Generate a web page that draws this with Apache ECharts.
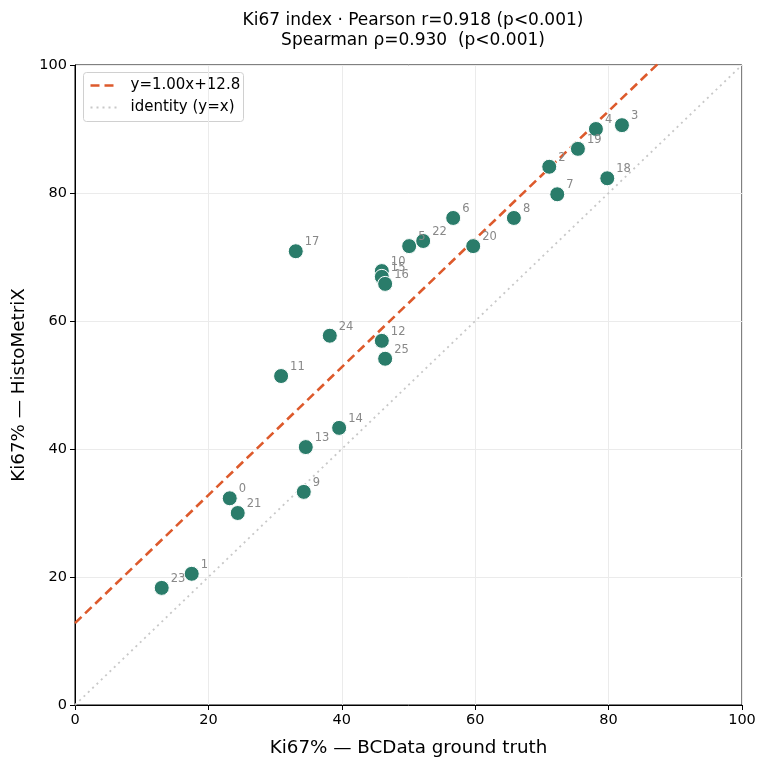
<!DOCTYPE html>
<html><head><meta charset="utf-8">
<script src="https://cdn.jsdelivr.net/npm/echarts@6/dist/echarts.min.js"></script>
<style>html,body{margin:0;padding:0;background:#fff}#c{width:768px;height:767px}</style>
</head><body><div id="c"></div>
<script>
const pointIds = ['0','1','2','3','4','5','6','7','8','9','10','11','12','13','14','15','16','17','18','19','20','21','22','23','24','25'];
const groundTruth = [23.2,17.5,71.1,82.0,78.1,50.1,56.7,72.3,65.8,34.3,46.0,30.9,46.0,34.6,39.6,46.0,46.5,33.1,79.8,75.4,59.7,24.4,52.2,13.0,38.2,46.5];
const histoMetrix = [32.3,20.5,84.1,90.6,90.0,71.7,76.1,79.8,76.1,33.3,67.8,51.4,56.9,40.3,43.3,66.9,65.8,70.9,82.3,86.9,71.7,30.0,72.5,18.3,57.7,54.1];
const fitSlope = 1.00, fitIntercept = 12.8;
const axisTicks = [0,20,40,60,80,100];
const titleLines = ['Ki67 index · Pearson r=0.918 (p<0.001)', 'Spearman ρ=0.930  (p<0.001)'];
const legendLabels = ['y=1.00x+12.8', 'identity (y=x)'];

const font = 'DejaVu Sans';
const pts = groundTruth.map((x,i)=>[x, histoMetrix[i], pointIds[i]]);
const lo = axisTicks[0], hi = axisTicks[axisTicks.length-1];
const fitLine = [[lo, fitIntercept + fitSlope*lo],[hi, fitIntercept + fitSlope*hi]];
const idLine = [[lo,lo],[hi,hi]];

const chart = echarts.init(document.getElementById('c'));
const axisCommon = {
  min: lo, max: hi, interval: 20,
  axisLine: {show:true, onZero:false, lineStyle:{color:'#000', width:1}},
  axisTick: {show:true, inside:false, length:5, lineStyle:{color:'#000'}},
  axisLabel: {color:'#000', fontSize:14.5, fontFamily:font, margin:8},
  splitLine: {show:true, lineStyle:{color:'#ebebeb', width:1}},
  nameLocation:'middle',
  nameTextStyle:{color:'#000', fontSize:18.3, fontFamily:font}
};
chart.setOption({
  animation:false,
  title:{
    text: titleLines.join('\n'), left: 408, top: 6, textAlign:'center',
    textStyle:{fontSize:17, fontWeight:'normal', color:'#000', fontFamily:font, lineHeight:20}
  },
  grid:{left:75, right:26, top:65, bottom:62, show:true, borderColor:'#000', borderWidth:1, backgroundColor:'transparent'},
  xAxis: Object.assign({type:'value', name:'Ki67% — BCData ground truth', nameGap:34}, axisCommon),
  yAxis: Object.assign({type:'value', name:'Ki67% — HistoMetriX', nameGap:41}, axisCommon),
  series:[
    {type:'line', data:idLine, symbol:'none', silent:true, clip:true, z:1,
     lineStyle:{color:'#c8c8c8', width:1.8, type:[2,4]}},
    {type:'line', data:fitLine, symbol:'none', silent:true, clip:true, z:2,
     lineStyle:{color:'#dd5a2c', width:2.6, type:[9,5]}},
    {type:'scatter', data:pts, symbolSize:15, z:3,
     itemStyle:{color:'#2a7c6a', opacity:1, borderColor:'#fff', borderWidth:1},
     label:{show:true, formatter:p=>p.data[2], position:'right', distance:1, offset:[0,-9],
            color:'#888', fontSize:11.5, fontFamily:font}}
  ],
  graphic:[
    {type:'group', left:83, top:72, children:[
      {type:'rect', shape:{x:0,y:0,width:160,height:49,r:3}, style:{fill:'rgba(255,255,255,0.85)', stroke:'#d0d0d0', lineWidth:1}},
      {type:'line', shape:{x1:7,y1:13,x2:35,y2:13}, style:{stroke:'#dd5a2c', lineWidth:2.6, lineDash:[9,5]}},
      {type:'text', style:{x:47, y:13, text:legendLabels[0], fontSize:15, fontFamily:font, fill:'#000', verticalAlign:'middle'}},
      {type:'line', shape:{x1:7,y1:35,x2:35,y2:35}, style:{stroke:'#c8c8c8', lineWidth:1.8, lineDash:[2,4]}},
      {type:'text', style:{x:47, y:35, text:legendLabels[1], fontSize:15, fontFamily:font, fill:'#000', verticalAlign:'middle'}}
    ]}
  ]
});
</script></body></html>
